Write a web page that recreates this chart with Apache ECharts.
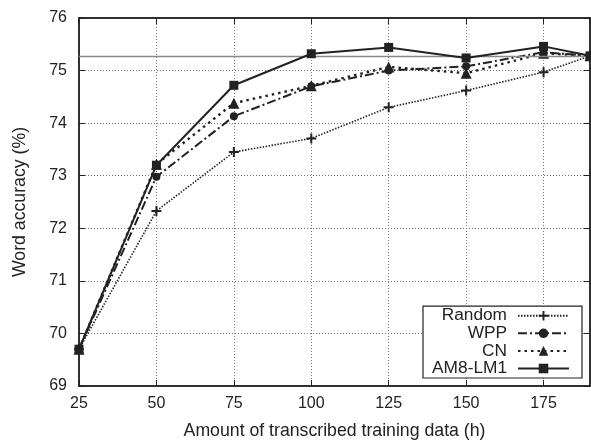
<!DOCTYPE html>
<html><head><meta charset="utf-8">
<script src="https://cdn.jsdelivr.net/npm/echarts@6/dist/echarts.min.js"></script>
<style>html,body{margin:0;padding:0;background:#fff}#c{width:591px;height:442px}</style>
</head><body><div id="c"></div>
<script>
const hours = [25, 50, 75, 100, 125, 150, 175, 190];
const randomAcc = [69.7, 72.33, 73.45, 73.71, 74.3, 74.62, 74.97, 75.28];
const wppAcc    = [69.7, 72.98, 74.13, 74.7, 75.0, 75.08, 75.35, 75.28];
const cnAcc     = [69.7, 73.22, 74.38, 74.71, 75.07, 74.95, 75.33, 75.28];
const amAcc     = [69.7, 73.2, 74.72, 75.32, 75.44, 75.24, 75.46, 75.28];
const baseline = 75.28;
const seriesNames = ['Random', 'WPP', 'CN', 'AM8-LM1'];

const font = 'Liberation Sans, Arial, sans-serif';
const pair = (ys) => hours.map((h, i) => [h, ys[i]]);
const plus = 'path://M4,0 L6,0 L6,4 L10,4 L10,6 L6,6 L6,10 L4,10 L4,6 L0,6 L0,4 L4,4 Z';

const chart = echarts.init(document.getElementById('c'));
const gridLine = {show: true, lineStyle: {color: '#777', type: [1, 2], width: 1}};
chart.setOption({
  animation: false,
  backgroundColor: '#fff',
  grid: {left: 79, right: 1, top: 18, bottom: 56, show: true, borderColor: '#222', borderWidth: 1.5,
    containLabel: false, outerBoundsMode: 'none'},
  xAxis: [{
    type: 'value', min: 25, max: 190, interval: 25, position: 'bottom',
    name: 'Amount of transcribed training data (h)', nameLocation: 'middle', nameGap: 36,
    nameTextStyle: {fontFamily: font, fontSize: 17.7, color: '#222'},
    axisLine: {show: true, lineStyle: {color: '#222', width: 1.5}},
    axisTick: {show: true, inside: true, length: 6, lineStyle: {color: '#222'}},
    axisLabel: {fontFamily: font, fontSize: 16, color: '#222', margin: 10, showMaxLabel: false},
    splitLine: gridLine
  }, {
    type: 'value', min: 25, max: 190, interval: 25, position: 'top',
    axisLine: {show: true, lineStyle: {color: '#222', width: 1.5}},
    axisTick: {show: true, inside: true, length: 6, lineStyle: {color: '#222'}},
    axisLabel: {show: false}, splitLine: {show: false}
  }],
  yAxis: [{
    type: 'value', min: 69, max: 76, interval: 1, position: 'left',
    name: 'Word accuracy (%)', nameLocation: 'middle', nameGap: 50,
    nameTextStyle: {fontFamily: font, fontSize: 17.7, color: '#222'},
    axisLine: {show: true, lineStyle: {color: '#222', width: 1.5}},
    axisTick: {show: true, inside: true, length: 6, lineStyle: {color: '#222'}},
    axisLabel: {fontFamily: font, fontSize: 16, color: '#222', margin: 12},
    splitLine: gridLine
  }, {
    type: 'value', min: 69, max: 76, interval: 1, position: 'right',
    axisLine: {show: true, lineStyle: {color: '#222', width: 1.5}},
    axisTick: {show: true, inside: true, length: 6, lineStyle: {color: '#222'}},
    axisLabel: {show: false}, splitLine: {show: false}
  }],
  legend: {
    orient: 'vertical', right: 9, bottom: 64, align: 'right',
    backgroundColor: '#fff', borderColor: '#222', borderWidth: 1.2, borderRadius: 0,
    padding: [1, 12, 1, 9], itemGap: 0.6, itemWidth: 51, itemHeight: 12,
    textStyle: {fontFamily: font, fontSize: 17.3, color: '#222', width: 75, align: 'right',
      padding: [0, 6, 0, 0], lineHeight: 17},
    data: seriesNames
  },
  series: [
    {name: seriesNames[0], type: 'line', data: pair(randomAcc), symbol: plus, symbolSize: 10,
     color: '#222', lineStyle: {type: [1.5, 1.5], width: 1.6, color: '#222'}, itemStyle: {color: '#222'}, z: 2,
     markLine: {silent: true, symbol: 'none', label: {show: false},
       lineStyle: {color: '#888', type: 'solid', width: 1.3}, data: [{yAxis: baseline}]}},
    {name: seriesNames[1], type: 'line', data: pair(wppAcc), symbol: 'circle', symbolSize: 8,
     color: '#222', lineStyle: {type: [9, 3, 2, 3], width: 2, color: '#222'}, itemStyle: {color: '#222'}, z: 3},
    {name: seriesNames[2], type: 'line', data: pair(cnAcc), symbol: 'triangle', symbolSize: 11,
     color: '#222', lineStyle: {type: [2.5, 4], width: 2.4, color: '#222'}, itemStyle: {color: '#222'}, z: 4},
    {name: seriesNames[3], type: 'line', data: pair(amAcc), symbol: 'rect', symbolSize: 9,
     color: '#222', lineStyle: {type: 'solid', width: 2, color: '#222'}, itemStyle: {color: '#222'}, z: 5}
  ]
});
</script></body></html>
